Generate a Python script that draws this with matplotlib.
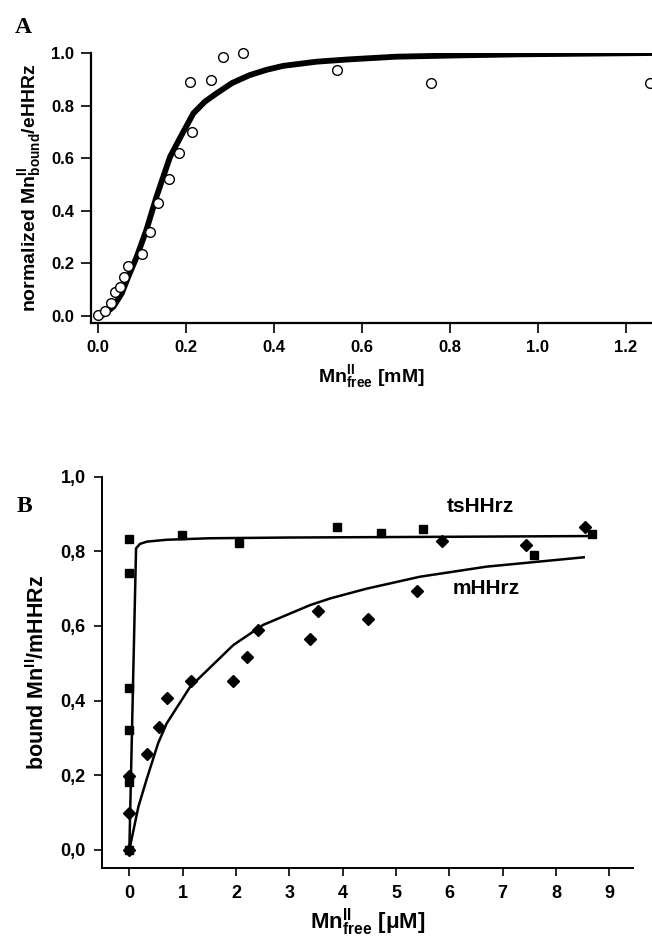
import numpy as np
import matplotlib
matplotlib.use("Agg")
import matplotlib.pyplot as plt

plt.rcParams['font.family'] = ['Liberation Sans', 'DejaVu Sans']
plt.rcParams['font.weight'] = 'bold'
plt.rcParams['axes.labelweight'] = 'bold'
plt.rcParams['mathtext.fontset'] = 'custom'
plt.rcParams['mathtext.bf'] = 'Liberation Sans:bold'
plt.rcParams['mathtext.rm'] = 'Liberation Sans:bold'
plt.rcParams['mathtext.default'] = 'bf'

# panel A: normalized Mn(II) bound vs free Mn(II) [mM]
a_x = [0.0, 0.015, 0.029, 0.039, 0.05, 0.059, 0.067, 0.099, 0.118, 0.137, 0.162,
       0.184, 0.213, 0.209, 0.258, 0.285, 0.329, 0.544, 0.757, 1.255]
a_y = [0.004, 0.02, 0.049, 0.089, 0.11, 0.148, 0.19, 0.236, 0.318, 0.43, 0.52,
       0.62, 0.70, 0.89, 0.897, 0.986, 1.0, 0.935, 0.885, 0.885]
a_fit_x = [0.0, 0.012, 0.035, 0.054, 0.069, 0.088, 0.11, 0.133, 0.164, 0.19, 0.217,
           0.243, 0.27, 0.305, 0.345, 0.383, 0.421, 0.497, 0.573, 0.678, 0.82, 0.96, 1.26]
a_fit_y = [0.0, 0.004, 0.035, 0.086, 0.15, 0.225, 0.327, 0.454, 0.606, 0.688, 0.771,
           0.815, 0.847, 0.886, 0.916, 0.936, 0.951, 0.967, 0.976, 0.986, 0.991, 0.995, 1.0]

# panel B: bound Mn(II)/mHHRz vs free Mn(II) [uM]
ts_x = [0.0, 0.0, 0.0, 0.0, 0.0, 0.0, 0.98, 2.06, 3.89, 4.72, 5.5, 7.58, 8.68]
ts_y = [0.832, 0.741, 0.433, 0.321, 0.183, 0.0, 0.844, 0.821, 0.864, 0.850, 0.859, 0.790, 0.846]
ts_fit_x = [0.0, 0.126, 0.2, 0.33, 0.7, 1.5, 3.0, 6.0, 8.7]
ts_fit_y = [0.0, 0.808, 0.82, 0.826, 0.831, 0.835, 0.837, 0.839, 0.841]

m_x = [0.0, 0.0, 0.0, 0.33, 0.55, 0.71, 1.15, 1.95, 2.2, 2.42, 3.38, 3.53,
       4.47, 5.39, 5.86, 7.44, 8.54]
m_y = [0.0, 0.098, 0.198, 0.257, 0.33, 0.407, 0.454, 0.452, 0.518, 0.589, 0.564, 0.641,
       0.62, 0.695, 0.828, 0.817, 0.866]
m_fit_x = [0.0, 0.17, 0.33, 0.54, 0.70, 1.14, 1.95, 2.51, 3.39, 3.77, 4.45, 5.45, 6.7, 8.52]
m_fit_y = [0.0, 0.116, 0.192, 0.286, 0.339, 0.437, 0.549, 0.603, 0.656, 0.674, 0.700, 0.732, 0.759, 0.784]

fig = plt.figure(figsize=(6.52, 9.4), dpi=100)

# ---- panel A
ax1 = fig.add_axes([0.1396, 0.6564, 0.8604, 0.2872])
ax1.plot(a_fit_x, a_fit_y, color='black', lw=4.2, solid_capstyle='butt',
         solid_joinstyle='round', zorder=2)
ax1.plot(a_x, a_y, 'o', ms=7, mfc='white', mec='black', mew=1.0, clip_on=False, zorder=3)
ax1.set_xlim(-0.016, 1.26)
ax1.set_ylim(-0.027, 1.0)
ax1.set_xticks(np.arange(0, 1.21, 0.2))
ax1.set_yticks(np.arange(0, 1.01, 0.2))
ax1.xaxis.set_major_formatter(matplotlib.ticker.FormatStrFormatter('%.1f'))
ax1.yaxis.set_major_formatter(matplotlib.ticker.FormatStrFormatter('%.1f'))
ax1.tick_params(direction='out', labelsize=12, length=7, width=1.2, pad=5)
ax1.set_ylabel(r'normalized Mn$^{II}_{bound}$/eHHRz', fontsize=14, labelpad=6)
ax1.set_xlabel(r'Mn$^{II}_{free}$ [mM]', fontsize=14, labelpad=6)
for s in ['top', 'right']:
    ax1.spines[s].set_visible(False)
for s in ['left', 'bottom']:
    ax1.spines[s].set_linewidth(1.6)
fig.text(0.022, 0.965, 'A', fontsize=17, fontweight='bold', family='Liberation Serif')

# ---- panel B
ax2 = fig.add_axes([0.1569, 0.0763, 0.8144, 0.4166])
ax2.plot(ts_fit_x, ts_fit_y, color='black', lw=1.8, zorder=2)
ax2.plot(m_fit_x, m_fit_y, color='black', lw=1.8, zorder=2)
ax2.plot(ts_x, ts_y, 's', ms=5.5, color='black', clip_on=False, zorder=3)
ax2.plot(m_x, m_y, 'D', ms=6, color='black', clip_on=False, zorder=3)
ax2.text(6.58, 0.92, 'tsHHrz', fontsize=15, ha='center', va='center')
ax2.text(6.7, 0.70, 'mHHrz', fontsize=15, ha='center', va='center')
ax2.set_xlim(-0.507, 9.45)
ax2.set_ylim(-0.049, 1.0)
ax2.set_xticks(range(0, 10))
ax2.set_yticks(np.arange(0, 1.01, 0.2))
ax2.set_yticklabels([('%.1f' % v).replace('.', ',') for v in np.arange(0, 1.01, 0.2)])
ax2.tick_params(direction='out', labelsize=13, length=6, width=1.2, pad=6)
ax2.set_ylabel(r'bound Mn$^{II}$/mHHRz', fontsize=15.5, labelpad=8)
ax2.set_xlabel(r'Mn$^{II}_{free}$ [μM]', fontsize=16, labelpad=3)
for s in ['top', 'right']:
    ax2.spines[s].set_visible(False)
for s in ['left', 'bottom']:
    ax2.spines[s].set_linewidth(1.4)
fig.text(0.025, 0.455, 'B', fontsize=17, fontweight='bold', family='Liberation Serif')

fig.savefig('out.png', dpi=100)
